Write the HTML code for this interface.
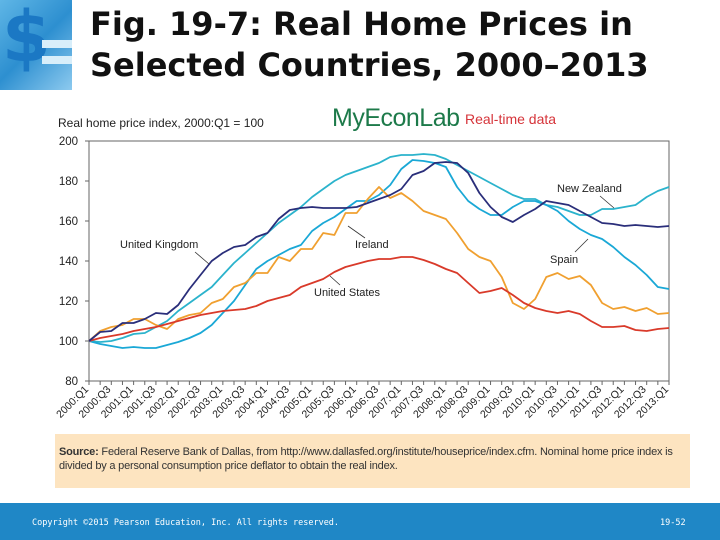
<!DOCTYPE html>
<html><head><meta charset="utf-8"><style>
body{margin:0;width:720px;height:540px;position:relative;background:#fff;font-family:"Liberation Sans",sans-serif;overflow:hidden}
.title{position:absolute;left:90px;top:4px;font-family:"DejaVu Sans","Liberation Sans",sans-serif;font-weight:bold;font-size:32px;line-height:41px;color:#111;white-space:nowrap}
.src{position:absolute;left:55px;top:434px;width:635px;height:54px;background:#fde4c0;font-family:"Liberation Sans Narrow","Liberation Sans",sans-serif;font-size:11px;line-height:14px;color:#333;box-sizing:border-box;padding:11px 4px 0 4px;letter-spacing:-0.2px}
.foot{position:absolute;left:0;top:503px;width:720px;height:37px;background:#1f87c6;color:#fff;font-family:"DejaVu Sans Mono",monospace;font-size:8.5px}
</style></head><body>
<div style="position:absolute;left:0;top:0;width:72px;height:90px;background:linear-gradient(135deg,#5fb6e6,#2d8fd0 50%,#8dcaef)">
<div style="position:absolute;left:2px;top:-4px;font:bold 70px 'DejaVu Sans',sans-serif;color:#1b78c4">$</div>
<div style="position:absolute;left:42px;top:40px;width:30px;height:8px;background:#d8eefa"></div>
<div style="position:absolute;left:42px;top:56px;width:30px;height:8px;background:#d8eefa"></div></div>
<div class="title">Fig. 19-7: Real Home Prices in<br>Selected Countries, 2000–2013</div>
<div style="position:absolute;left:332px;top:104px;font-size:25px;color:#1d7a4a;letter-spacing:-0.5px">MyEconLab</div>
<div style="position:absolute;left:465px;top:111px;font-size:14px;color:#d6343a;font-family:'Liberation Sans Narrow','Liberation Sans',sans-serif">Real-time data</div>
<svg id="chart" width="720" height="540" style="position:absolute;left:0;top:0"></svg>
<div class="src"><b>Source:</b> Federal Reserve Bank of Dallas, from http://www.dallasfed.org/institute/houseprice/index.cfm. Nominal home price index is divided by a personal consumption price deflator to obtain the real index.</div>
<div class="foot"><span style="position:absolute;left:32px;top:15px">Copyright ©2015 Pearson Education, Inc. All rights reserved.</span><span style="position:absolute;left:660px;top:15px">19-52</span></div>
<script>
const yTicks=[80,100,120,140,160,180,200];
const years=[2000,2001,2002,2003,2004,2005,2006,2007,2008,2009,2010,2011,2012,2013];
const uk=[100,104.5,105,109,109,111,114,113.5,118,126,133,140,144,147,148,152,154,161,165.5,166.5,167,166.5,166.5,166.5,167,169,171,173,176,183,185,189,189.5,189,184,174,167,162,159.5,163,166,170,169,168,165,162,159,158.5,157.5,158,157.5,157,157.5];
const nz=[100,99.5,100,101.5,103.5,104,107,110,115,119,123,127,133,139,144,149,154,159,163,167,172,176,180,183,185,187,189,192,193,193,193.5,193,191,188,185,182,179,176,173,171,171,168,167,165,163,163,166,166,167,168,172,175,177];
const spain=[100,98.5,97.5,96.5,97,96.5,96.5,98,99.5,101.5,104,108,114,120,128,136,140,143,146,148,155,159,162,166,170,170,173,178,186,190.5,190,189,187,177,170,166,163,163,167,170,170,168,165,160,156,153,151,147,142,138,133,127,126];
const ireland=[100,105,107,108,111,111,108,106,111,113,114,119,121,127,129,134,134,142,140,146,146,154,153,164,164,171,177,171.5,174,170,165,163,161,154,146,142,140,132,119,116,121,132,134,131,132.5,128,119,116,117,115,116.5,113.5,114];
const us=[100,101.5,102.5,103.5,105,106,107,108.5,110,111.5,113,114,115,115.5,116,117.5,120,121.5,123,127,129,131,134.5,137,138.5,140,141,141,142,142,140.5,138.5,136,134,129,124,125,126.5,123,119,116.5,115,114,115,113.5,110,107,107,107.5,105.5,105,106,106.5];
const X0=89,X1=669,Y0=381,Y1=141,NQ=52;
const xs=i=>X0+(X1-X0)*i/NQ;
const ys=v=>Y0-(v-80)/120*(Y0-Y1);
const svg=document.getElementById('chart');const NS='http://www.w3.org/2000/svg';
function mk(t,a,p){const e=document.createElementNS(NS,t);for(const k in a)e.setAttribute(k,a[k]);(p||svg).appendChild(e);return e;}
let e=mk('rect',{x:X0,y:Y1,width:X1-X0,height:Y0-Y1,fill:'none',stroke:'#666','stroke-width':1});


e=mk('text',{x:58,y:127,'font-size':12,fill:'#222'});e.textContent='Real home price index, 2000:Q1 = 100';


yTicks.forEach(v=>{const t=mk('text',{x:78,y:ys(v)+4,'font-size':11.5,'text-anchor':'end',fill:'#222'});t.textContent=v;


mk('line',{x1:X0-4,x2:X0,y1:ys(v),y2:ys(v),stroke:'#666'});});
for(let i=0;i<=NQ;i++){mk('line',{x1:xs(i),x2:xs(i),y1:Y0,y2:Y0+4,stroke:'#666'});}
years.forEach((y,k)=>{[0,2].forEach(q=>{const i=k*4+q;if(i>NQ)return;const x=xs(i),yy=Y0+9;
const t=mk('text',{x:x,y:yy,'font-size':10.5,'text-anchor':'end',fill:'#222',transform:`rotate(-45 ${x} ${yy})`});t.textContent=y+':Q'+(q+1);

});});
function line(d,c,name){const p=d.map((v,i)=>(i?'L':'M')+xs(i).toFixed(1)+','+ys(v).toFixed(1)).join('');
const l=mk('path',{d:p,fill:'none',stroke:c,'stroke-width':1.8,'stroke-linejoin':'round'});

}
line(nz,'#2bb3cc','line-new-zealand');line(spain,'#1aa8d6','line-spain');line(ireland,'#f0a030','line-ireland');line(us,'#d93a2a','line-united-states');line(uk,'#2a2e7a','line-united-kingdom');
function lab(t,x,y,lx1,ly1,lx2,ly2,name){const e=mk('text',{x:x,y:y,'font-size':11,fill:'#222'});e.textContent=t;


mk('line',{x1:lx1,y1:ly1,x2:lx2,y2:ly2,stroke:'#333','stroke-width':0.8});}
lab('United Kingdom',120,248,195,252,209,264,'label-uk');
lab('Ireland',355,248,365,238,348,226,'label-ireland');
lab('United States',314,296,340,285,330,276,'label-us');
lab('New Zealand',557,192,600,196,614,208,'label-nz');
lab('Spain',550,263,575,252,588,239,'label-spain');
</script>
</body></html>
